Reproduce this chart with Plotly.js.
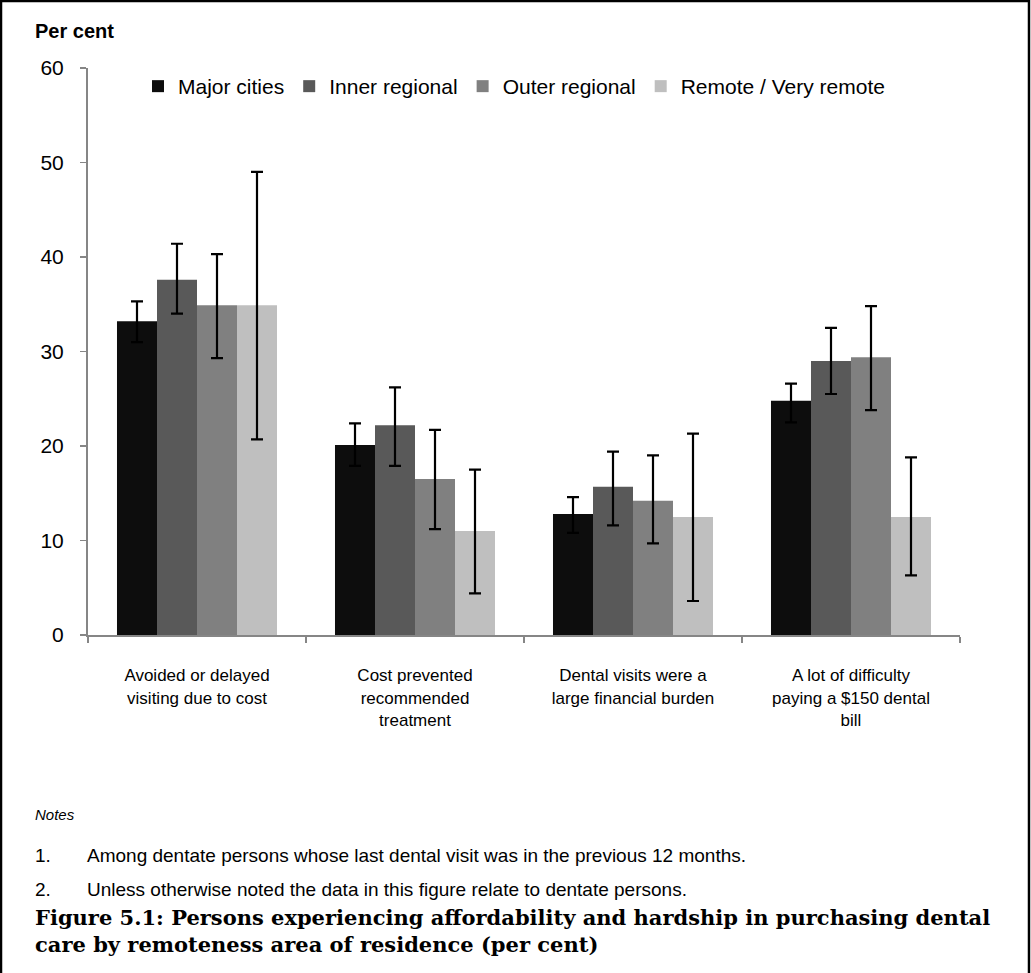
<!DOCTYPE html>
<html>
<head>
<meta charset="utf-8">
<script src="https://cdn.plot.ly/plotly-3.0.1.min.js"></script>
<style>
  html, body { margin: 0; padding: 0; background: #fff; }
  #chart { width: 1031px; height: 973px; }
</style>
</head>
<body>
<div id="chart"></div>
<script>
// Categories (x-axis tick labels)
const categories = [
  "Avoided or delayed<br>visiting due to cost",
  "Cost prevented<br>recommended<br>treatment",
  "Dental visits were a<br>large financial burden",
  "A lot of difficulty<br>paying a $150 dental<br>bill"
];

// Series names
const seriesNames = ["Major cities", "Inner regional", "Outer regional", "Remote / Very remote"];
const seriesColors = ["#0d0d0d", "#595959", "#808080", "#bfbfbf"];

// Values (per cent)
const majorCities   = [33.2, 20.1, 12.8, 24.8];
const innerRegional = [37.6, 22.2, 15.7, 29.0];
const outerRegional = [34.9, 16.5, 14.2, 29.4];
const remote        = [34.9, 11.0, 12.5, 12.5];

// Confidence interval bounds (upper, lower)
const majorUpper = [35.3, 22.4, 14.6, 26.6];
const majorLower = [31.0, 17.9, 10.8, 22.5];
const innerUpper = [41.4, 26.2, 19.4, 32.5];
const innerLower = [34.0, 17.9, 11.6, 25.5];
const outerUpper = [40.3, 21.7, 19.0, 34.8];
const outerLower = [29.3, 11.2,  9.7, 23.8];
const remoteUpper = [49.0, 17.5, 21.3, 18.8];
const remoteLower = [20.7,  4.4,  3.6,  6.3];

const values = [majorCities, innerRegional, outerRegional, remote];
const uppers = [majorUpper, innerUpper, outerUpper, remoteUpper];
const lowers = [majorLower, innerLower, outerLower, remoteLower];

const traces = values.map((vals, i) => ({
  type: "bar",
  name: seriesNames[i],
  x: categories,
  y: vals,
  marker: { color: seriesColors[i], line: { width: 0 } },
  error_y: {
    type: "data",
    symmetric: false,
    array: vals.map((v, k) => uppers[i][k] - v),
    arrayminus: vals.map((v, k) => v - lowers[i][k]),
    color: "#000000",
    thickness: 2.2,
    width: 6
  },
  hoverinfo: "y+name"
}));

// Plot-area geometry helpers for annotations (pixels -> paper)
const L = 88, R = 960, T = 68, B = 635;
const px = x => (x - L) / (R - L);
const py = y => (B - y) / (B - T);

const noteFont = { family: "Liberation Sans, Arial, sans-serif", size: 19, color: "#000" };

const layout = {
  width: 1031,
  height: 973,
  margin: { l: L, r: 1031 - R, t: T, b: 973 - B, pad: 0 },
  paper_bgcolor: "#ffffff",
  plot_bgcolor: "#ffffff",
  font: { family: "Liberation Sans, Arial, sans-serif", color: "#000000" },
  barmode: "group",
  bargap: 0.266,
  bargroupgap: 0,
  showlegend: true,
  legend: {
    orientation: "h",
    x: px(138),
    y: py(66),
    xanchor: "left",
    yanchor: "top",
    font: { family: "Liberation Sans, Arial, sans-serif", size: 21, color: "#000" },
    itemwidth: 30,
    traceorder: "normal",
    bgcolor: "rgba(0,0,0,0)"
  },
  xaxis: {
    type: "category",
    showline: true,
    linecolor: "#868686",
    linewidth: 2,
    ticks: "outside",
    tickson: "boundaries",
    ticklen: 6,
    tickcolor: "#868686",
    tickwidth: 1.5,
    showgrid: false,
    zeroline: false,
    tickfont: { family: "Liberation Sans, Arial, sans-serif", size: 17, color: "#000" },
    ticklabelstandoff: 24
  },
  yaxis: {
    range: [0, 60],
    dtick: 10,
    showline: true,
    linecolor: "#868686",
    linewidth: 2,
    ticks: "outside",
    ticklen: 6,
    tickcolor: "#868686",
    tickwidth: 1.5,
    showgrid: false,
    zeroline: false,
    tickfont: { family: "Liberation Sans, Arial, sans-serif", size: 21, color: "#000" },
    ticklabelstandoff: 12
  },
  shapes: [
    {
      type: "rect", xref: "paper", yref: "paper",
      x0: px(1), x1: px(1029), y0: py(990), y1: py(1),
      line: { color: "#000", width: 2.5 }, fillcolor: "rgba(0,0,0,0)", layer: "below"
    }
  ],
  annotations: [
    {
      text: "<b>Per cent</b>", xref: "paper", yref: "paper",
      x: px(33), y: py(31), xanchor: "left", yanchor: "middle", showarrow: false,
      font: { family: "Liberation Sans, Arial, sans-serif", size: 20, color: "#000" }
    },
    {
      text: "<i>Notes</i>", xref: "paper", yref: "paper",
      x: px(33), y: py(814), xanchor: "left", yanchor: "middle", showarrow: false,
      font: { family: "Liberation Sans, Arial, sans-serif", size: 15, color: "#000" }
    },
    {
      text: "1.", xref: "paper", yref: "paper",
      x: px(33), y: py(855), xanchor: "left", yanchor: "middle", showarrow: false,
      font: noteFont
    },
    {
      text: "Among dentate persons whose last dental visit was in the previous 12 months.", xref: "paper", yref: "paper",
      x: px(85), y: py(855), xanchor: "left", yanchor: "middle", showarrow: false,
      font: noteFont
    },
    {
      text: "2.", xref: "paper", yref: "paper",
      x: px(33), y: py(889), xanchor: "left", yanchor: "middle", showarrow: false,
      font: noteFont
    },
    {
      text: "Unless otherwise noted the data in this figure relate to dentate persons.", xref: "paper", yref: "paper",
      x: px(85), y: py(889), xanchor: "left", yanchor: "middle", showarrow: false,
      font: noteFont
    },
    {
      text: "<b>Figure 5.1: Persons experiencing affordability and hardship in purchasing dental<br>care by remoteness area of residence (per cent)</b>",
      xref: "paper", yref: "paper",
      x: px(33), y: py(903), xanchor: "left", yanchor: "top", align: "left", showarrow: false,
      font: { family: "DejaVu Serif, serif", size: 21, color: "#000" }
    }
  ]
};

Plotly.newPlot("chart", traces, layout, { displayModeBar: false, staticPlot: true });
</script>
</body>
</html>
